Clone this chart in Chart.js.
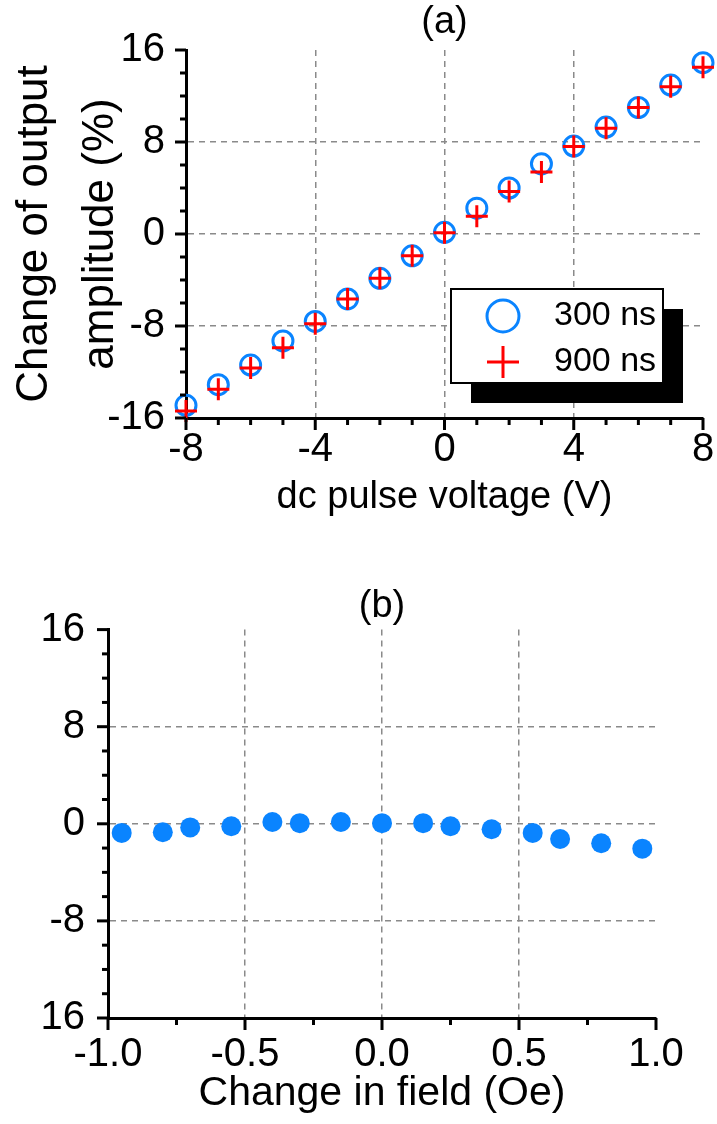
<!DOCTYPE html>
<html>
<head>
<meta charset="utf-8">
<script src="https://cdn.jsdelivr.net/npm/chart.js@4"></script>
<style>
  body { margin: 0; background: #fff; }
  #wrap { position: relative; width: 717px; height: 1124px; }
  canvas { position: absolute; left: 0; }
</style>
</head>
<body>
<div id="wrap">
  <canvas id="chartA" width="717" height="560" style="top:0"></canvas>
  <canvas id="chartB" width="717" height="564" style="top:560px"></canvas>
</div>
<script>
// (a) output amplitude vs dc pulse voltage
const voltages = [-8, -7, -6, -5, -4, -3, -2, -1, 0, 1, 2, 3, 4, 5, 6, 7, 8];
const amp300ns = [-14.9, -13.1, -11.4, -9.3, -7.6, -5.65, -3.85, -1.9, 0.15, 2.25, 4.0, 6.1, 7.65, 9.3, 11.0, 12.95, 14.9];
const amp900ns = [-15.4, -13.5, -11.65, -9.9, -7.8, -5.65, -3.85, -1.9, 0.1, 1.55, 3.7, 5.4, 7.6, 9.2, 11.0, 12.8, 14.5];

// (b) output amplitude vs change in field
const fieldOe = [-0.95, -0.8, -0.7, -0.55, -0.4, -0.3, -0.15, 0, 0.15, 0.25, 0.4, 0.55, 0.65, 0.8, 0.95];
const fieldChange = [-0.75, -0.7, -0.3, -0.2, 0.15, 0.05, 0.15, 0.05, 0.05, -0.2, -0.45, -0.75, -1.25, -1.6, -2.05];

// tick labels
const yMajor = [-16, -8, 0, 8, 16];
const yLabelsA = ['-16', '-8', '0', '8', '16'];
const yLabelsB = ['16', '-8', '0', '8', '16'];
const xMajorA = [-8, -4, 0, 4, 8];
const xLabelsA = ['-8', '-4', '0', '4', '8'];
const xMajorB = [-1, -0.5, 0, 0.5, 1];
const xLabelsB = ['-1.0', '-0.5', '0.0', '0.5', '1.0'];

const FONT = "Arial, 'Liberation Sans', sans-serif";
const BLUE = '#0a84ff';
const RED = '#ff0000';

function labelFor(v, values, labels) {
  const i = values.findIndex(m => Math.abs(m - v) < 1e-9);
  return i < 0 ? '' : labels[i];
}

// dashed grid only on the inner major ticks
function gridColor(values) {
  return ctx => {
    if (!ctx.tick) return 'rgba(0,0,0,0)';
    const i = values.findIndex(m => Math.abs(m - ctx.tick.value) < 1e-9);
    return (i > 0 && i < values.length - 1) ? '#8a8a8a' : 'rgba(0,0,0,0)';
  };
}

// outward tick marks, long for labelled ticks, short for the others
const tickMarks = {
  id: 'tickMarks',
  afterDraw(chart) {
    const ctx = chart.ctx;
    const xs = chart.scales.x, ys = chart.scales.y;
    ctx.save();
    ctx.strokeStyle = '#000';
    ctx.lineWidth = 3;
    ys.ticks.forEach(t => {
      const py = ys.getPixelForValue(t.value);
      const len = t.label !== '' ? 11 : 6;
      ctx.beginPath();
      ctx.moveTo(ys.right, py);
      ctx.lineTo(ys.right - len, py);
      ctx.stroke();
    });
    xs.ticks.forEach(t => {
      const px = xs.getPixelForValue(t.value);
      const len = t.label !== '' ? 12 : 7;
      ctx.beginPath();
      ctx.moveTo(px, xs.top);
      ctx.lineTo(px, xs.top + len);
      ctx.stroke();
    });
    ctx.restore();
  }
};

// framed legend with a drop shadow inside the plot
const boxLegend = {
  id: 'boxLegend',
  afterDraw(chart, args, opts) {
    if (!opts.show) return;
    const ctx = chart.ctx;
    const area = chart.chartArea;
    const x = area.right - opts.right - opts.w;
    const y = area.bottom - opts.bottom - opts.h;
    ctx.save();
    ctx.fillStyle = '#000';
    ctx.fillRect(x + opts.shadow, y + opts.shadow, opts.w, opts.h);
    ctx.fillStyle = '#fff';
    ctx.fillRect(x, y, opts.w, opts.h);
    ctx.lineWidth = 2;
    ctx.strokeStyle = '#000';
    ctx.strokeRect(x, y, opts.w, opts.h);
    chart.data.datasets.forEach((ds, i) => {
      const cy = y + opts.rowTop + i * opts.rowGap;
      ctx.strokeStyle = ds.borderColor;
      ctx.fillStyle = ds.backgroundColor;
      ctx.lineWidth = ds.borderWidth;
      Chart.helpers.drawPoint(ctx, {pointStyle: ds.pointStyle, radius: opts.markerRadius, borderWidth: ds.borderWidth, rotation: 0}, x + opts.markerX, cy);
      ctx.fillStyle = '#000';
      ctx.font = opts.fontSize + 'px ' + FONT;
      ctx.textAlign = 'left';
      ctx.textBaseline = 'middle';
      ctx.fillText(ds.label, x + opts.textX, cy);
    });
    ctx.restore();
  }
};

function axisX(min, max, step, majors, labels, height, labelPad, title, titleSize, titlePad) {
  return {
    type: 'linear', min: min, max: max,
    afterFit: s => { s.height = height; s.paddingLeft = 0; s.paddingRight = 0; },
    ticks: {
      stepSize: step, autoSkip: false, maxRotation: 0, padding: labelPad,
      color: '#000', font: {family: FONT, size: 40},
      callback: v => labelFor(v, majors, labels)
    },
    grid: {drawTicks: false, color: gridColor(majors), lineWidth: 1.5},
    border: {display: true, color: '#000', width: 3, dash: [6, 5]},
    title: {display: true, text: title, color: '#000', font: {family: FONT, size: titleSize}, padding: {top: 0, bottom: titlePad}}
  };
}

function axisY(labels, width, labelPad, title) {
  return {
    type: 'linear', min: -16, max: 16,
    afterFit: s => { s.width = width; },
    ticks: {
      stepSize: 2, autoSkip: false, padding: labelPad,
      color: '#000', font: {family: FONT, size: 40},
      callback: v => labelFor(v, yMajor, labels)
    },
    grid: {drawTicks: false, color: gridColor(yMajor), lineWidth: 1.5},
    border: {display: true, color: '#000', width: 3, dash: [6, 5]},
    title: title ? {display: true, text: title, color: '#000', font: {family: FONT, size: 44, lineHeight: 1.52}, padding: {top: 1, bottom: 0}} : {display: false}
  };
}

new Chart(document.getElementById('chartA'), {
  type: 'scatter',
  data: {
    datasets: [
      {
        label: '300 ns',
        data: voltages.map((v, i) => ({x: v, y: amp300ns[i]})),
        pointStyle: 'circle', pointRadius: 10, borderWidth: 3,
        borderColor: BLUE, backgroundColor: 'rgba(255,255,255,0)',
        order: 2, clip: false
      },
      {
        label: '900 ns',
        data: voltages.map((v, i) => ({x: v, y: amp900ns[i]})),
        pointStyle: 'cross', pointRadius: 11, borderWidth: 3,
        borderColor: RED, backgroundColor: RED,
        order: 1, clip: false
      }
    ]
  },
  options: {
    responsive: false, animation: false, devicePixelRatio: 1,
    layout: {padding: {left: 0, right: 12, top: 0, bottom: 0}},
    plugins: {
      legend: {display: false},
      tooltip: {enabled: false},
      title: {display: true, text: '(a)', fullSize: false, color: '#000', font: {family: FONT, size: 38, weight: 'normal'}, padding: {top: 0, bottom: 4.4}},
      boxLegend: {show: true, w: 212, h: 94, right: 40, bottom: 35, shadow: 20, rowTop: 27, rowGap: 46, markerX: 52, markerRadius: 16, textX: 103, fontSize: 34}
    },
    scales: {
      x: axisX(-8, 8, 1, xMajorA, xLabelsA, 142, 8, 'dc pulse voltage (V)', 38, 40),
      y: axisY(yLabelsA, 186, 21, ['Change of output', 'amplitude (%)'])
    }
  },
  plugins: [tickMarks, boxLegend]
});

new Chart(document.getElementById('chartB'), {
  type: 'scatter',
  data: {
    datasets: [
      {
        label: 'field',
        data: fieldOe.map((v, i) => ({x: v, y: fieldChange[i]})),
        pointStyle: 'circle', pointRadius: 10, borderWidth: 0,
        borderColor: BLUE, backgroundColor: BLUE, clip: false
      }
    ]
  },
  options: {
    responsive: false, animation: false, devicePixelRatio: 1,
    layout: {padding: {left: 0, right: 61, top: 0, bottom: 0}},
    plugins: {
      legend: {display: false},
      tooltip: {enabled: false},
      title: {display: true, text: '(b)', fullSize: false, color: '#000', font: {family: FONT, size: 38, weight: 'normal'}, padding: {top: 24, bottom: 0}},
      boxLegend: {show: false}
    },
    scales: {
      x: axisX(-1, 1, 0.25, xMajorB, xLabelsB, 106, 13, 'Change in field (Oe)', 41, 6),
      y: axisY(yLabelsB, 108, 23, null)
    }
  },
  plugins: [tickMarks, boxLegend]
});
</script>
</body>
</html>
